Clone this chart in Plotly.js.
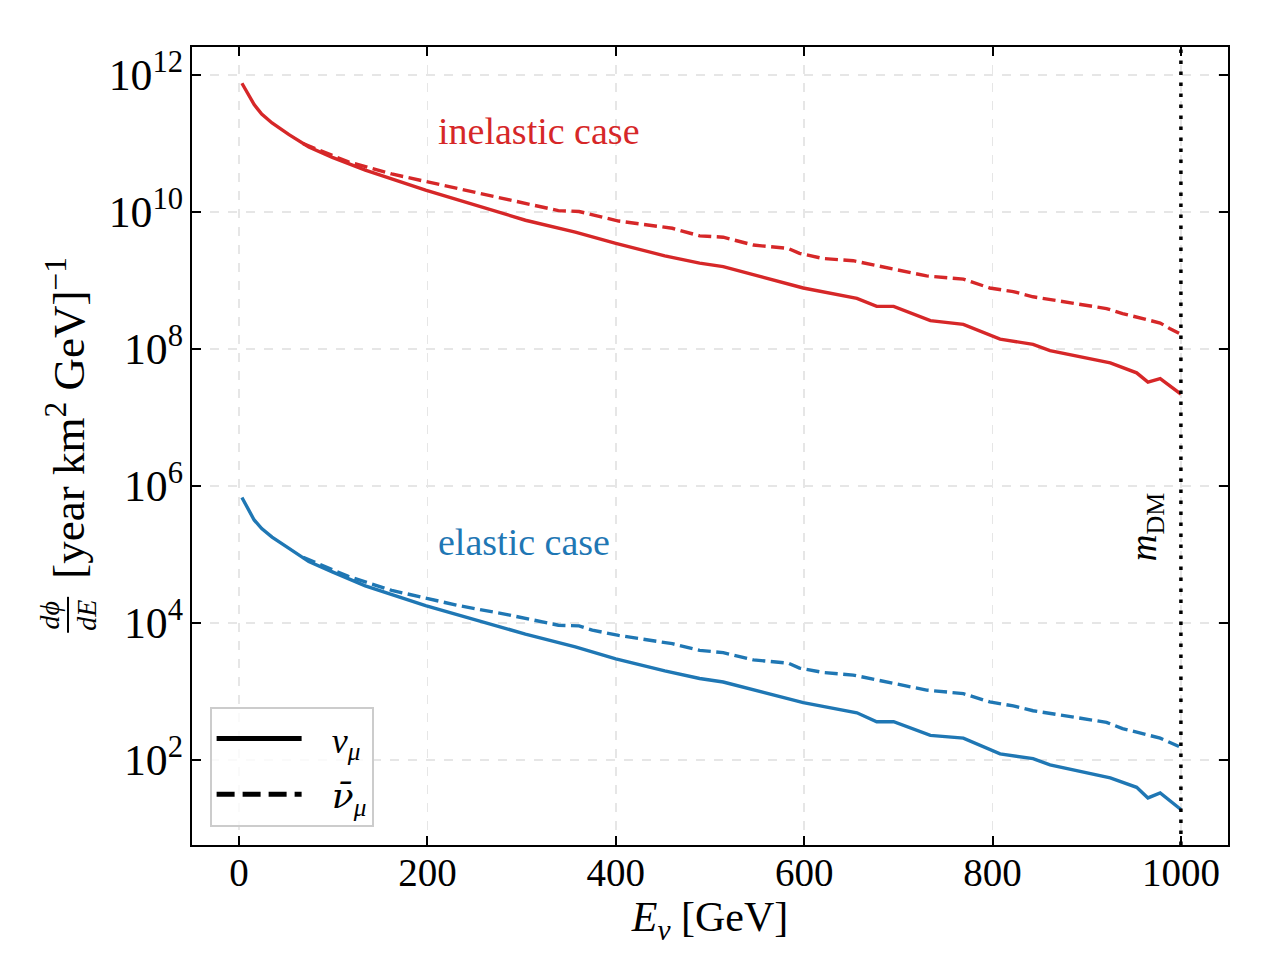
<!DOCTYPE html>
<html>
<head>
<meta charset="utf-8">
<script src="https://cdn.plot.ly/plotly-3.0.1.min.js"></script>
<style>
  html, body { margin: 0; padding: 0; background: #fff; }
  #plot { width: 1280px; height: 960px; }
</style>
</head>
<body>
<div id="plot"></div>
<script>
// flux spectra, E in GeV
const eSolid = [3, 16, 24, 35, 53, 74, 99, 134, 198, 251, 304, 357, 400, 452, 489, 514, 560, 599, 656, 677, 695, 734, 769, 808, 843, 861, 925, 953, 965, 978, 1000];
const inelNu = [7.6e11, 3.7e11, 2.7e11, 2.0e11, 1.35e11, 8.9e10, 6.3e10, 4.1e10, 2.1e10, 1.26e10, 7.6e9, 5.1e9, 3.5e9, 2.3e9, 1.8e9, 1.6e9, 1.07e9, 7.8e8, 5.5e8, 4.2e8, 4.2e8, 2.6e8, 2.3e8, 1.4e8, 1.17e8, 9.5e7, 6.3e7, 4.5e7, 3.3e7, 3.7e7, 2.2e7];
const elNu = [6.8e5, 3.2e5, 2.4e5, 1.8e5, 1.23e5, 7.9e4, 5.6e4, 3.5e4, 1.8e4, 1.12e4, 6.9e3, 4.5e3, 3.0e3, 2.0e3, 1.55e3, 1.38e3, 955, 690, 490, 363, 363, 229, 209, 123, 105, 85, 55, 40, 28, 33, 19];

const eDash = [68, 116, 162, 233, 286, 339, 361, 375, 403, 460, 489, 514, 546, 583, 595, 620, 652, 730, 769, 797, 822, 843, 921, 938, 978, 988, 998];
const inelNuBar = [1.0e11, 5.4e10, 3.6e10, 2.2e10, 1.55e10, 1.05e10, 1.02e10, 9.1e9, 7.4e9, 5.8e9, 4.5e9, 4.3e9, 3.3e9, 2.95e9, 2.5e9, 2.1e9, 1.95e9, 1.17e9, 1.05e9, 7.8e8, 6.9e8, 5.8e8, 3.9e8, 3.3e8, 2.4e8, 2.0e8, 1.7e8];
const elNuBar = [9.1e4, 4.8e4, 3.0e4, 1.8e4, 1.32e4, 9.3e3, 9.1e3, 7.9e3, 6.6e3, 5.0e3, 4.0e3, 3.7e3, 2.9e3, 2.6e3, 2.2e3, 1.9e3, 1.74e3, 1.05e3, 933, 708, 617, 525, 355, 288, 209, 180, 158];

const mDM = 1000;

const red = '#d62728';
const blue = '#1f77b4';
const serif = 'Liberation Serif, DejaVu Serif, serif';
const pad = '\u2002\u2009';
const dashed = '13px,5.5px';

let data = [
  {x: eSolid, y: inelNu, mode: 'lines', line: {color: red, width: 3.4}, showlegend: false},
  {x: eDash, y: inelNuBar, mode: 'lines', line: {color: red, width: 3.4, dash: dashed}, showlegend: false},
  {x: eSolid, y: elNu, mode: 'lines', line: {color: blue, width: 3.4}, showlegend: false},
  {x: eDash, y: elNuBar, mode: 'lines', line: {color: blue, width: 3.4, dash: dashed}, showlegend: false},
  // legend only
  {x: [null], y: [null], mode: 'lines', legendgroup: 'a', name: pad + '<i>ν</i><sub><i>μ</i></sub>', line: {color: 'black', width: 5}},
  {x: [null], y: [null], mode: 'lines', legendgroup: 'b', name: pad + '<span style="font-family:DejaVu Serif"><i>ν̄</i></span><sub><i>μ</i></sub>', line: {color: 'black', width: 5, dash: '18px,8px'}}
];

let layout = {
  width: 1280,
  height: 960,
  margin: {l: 192, r: 52, t: 47, b: 115},
  paper_bgcolor: '#fff',
  plot_bgcolor: '#fff',
  font: {family: serif, size: 30, color: 'black'},
  xaxis: {
    range: [-50, 1050],
    tickvals: [0, 200, 400, 600, 800, 1000],
    ticks: 'inside', ticklen: 9, tickwidth: 2, tickcolor: 'black',
    showline: true, linecolor: 'black', linewidth: 2, mirror: 'ticks',
    showgrid: true, gridcolor: '#e6e6e6', gridwidth: 1.5, griddash: 'dash',
    zeroline: false,
    tickfont: {family: serif, size: 39},
    ticklabelstandoff: -8,
    title: {text: '<i>E</i><sub><i>ν</i></sub> [GeV]', font: {family: serif, size: 42}, standoff: 8}
  },
  yaxis: {
    type: 'log',
    range: [0.76, 12.41],
    dtick: 2, tick0: 0,
    exponentformat: 'power',
    ticks: 'inside', ticklen: 9, tickwidth: 2, tickcolor: 'black',
    showline: true, linecolor: 'black', linewidth: 2, mirror: 'ticks',
    showgrid: true, gridcolor: '#e6e6e6', gridwidth: 1.5, griddash: 'dash',
    zeroline: false,
    tickfont: {family: serif, size: 35}
  },
  shapes: [
    {type: 'line', xref: 'x', yref: 'paper', x0: mDM, x1: mDM, y0: 0, y1: 1,
     line: {color: 'black', width: 3.5, dash: '3.5px,7.5px'}},
    // fraction bar of the y label
    {type: 'line', xref: 'paper', yref: 'paper', x0: -0.1197, x1: -0.1197, y0: 0.266, y1: 0.311,
     line: {color: 'black', width: 2}}
  ],
  annotations: [
    {x: 209, y: 11.18, xref: 'x', yref: 'y', text: 'inelastic case', showarrow: false,
     xanchor: 'left', yanchor: 'middle', font: {family: serif, size: 38, color: red}},
    {x: 209, y: 5.18, xref: 'x', yref: 'y', text: 'elastic case', showarrow: false,
     xanchor: 'left', yanchor: 'middle', font: {family: serif, size: 38, color: blue}},
    {x: 963, y: 5.4, xref: 'x', yref: 'y', text: '<i>m</i><sub>DM</sub>', showarrow: false,
     textangle: -90, font: {family: serif, size: 37, color: 'black'}},
    // y label
    {x: -0.122, y: 0.535, xref: 'paper', yref: 'paper', xanchor: 'center', yanchor: 'middle',
     text: '[year km<sup>2</sup> GeV]<sup>−1</sup>',
     showarrow: false, textangle: -90, font: {family: serif, size: 45, color: 'black'}},
    {x: -0.1197, y: 0.2885, xref: 'paper', yref: 'paper', xanchor: 'center', yanchor: 'middle',
     text: '<i>dϕ</i><br><i>dE</i>',
     showarrow: false, textangle: -90, font: {family: serif, size: 28, color: 'black'}}
  ],
  legend: {
    x: 0.017, y: 0.023, xanchor: 'left', yanchor: 'bottom',
    bgcolor: 'rgba(255,255,255,0.8)', bordercolor: '#cccccc', borderwidth: 2,
    font: {family: serif, size: 36}, itemwidth: 85, tracegroupgap: 6
  }
};

Plotly.newPlot('plot', data, layout, {staticPlot: true});
</script>
</body>
</html>
